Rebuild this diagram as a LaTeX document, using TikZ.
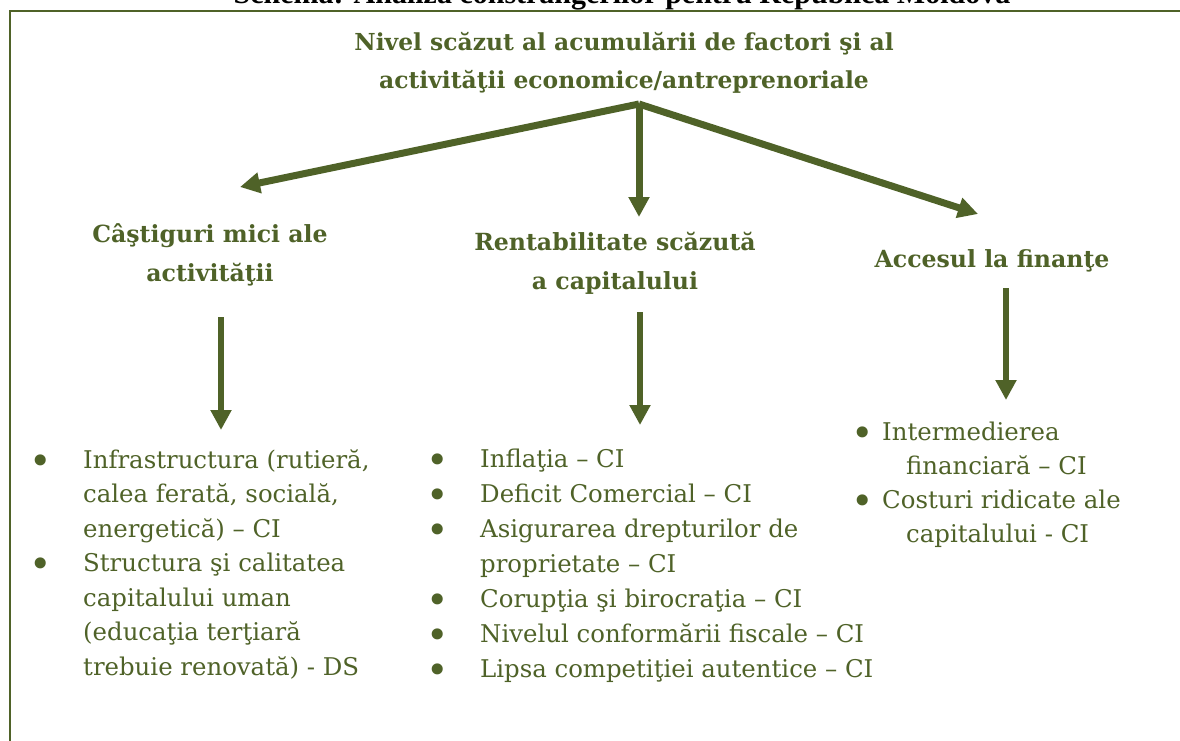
\documentclass[tikz,border=0pt]{standalone}
\usepackage{fontspec}
\setmainfont{DejaVu Serif}
\newfontfamily\titlefont{Liberation Serif}
\usetikzlibrary{arrows.meta}
\definecolor{olivedark}{HTML}{4F6228}
\newcommand\itemdot{\smash{\raisebox{-6pt}{\fontsize{38}{38}\selectfont\textbullet}}}

\tikzset{
    greenarrow/.style={draw=olivedark, line width=6pt, -{Triangle[width=20pt,length=20pt]}},
    headtxt/.style={text=olivedark, inner sep=0pt, anchor=base, font=\bfseries\fontsize{23.6}{39}\selectfont},
    listtxt/.style={text=olivedark, inner sep=0pt, anchor=base west, font=\fontsize{24.4}{34.5}\selectfont}
}

\begin{document}
\begin{tikzpicture}[x=1pt, y=-1pt]
        \useasboundingbox (0,0) rectangle (1180,741);
        % Frame and cut title
        \draw[olivedark, line width=2pt] (10,741) -- (10,11) -- (1180,11);
        \node[inner sep=0pt, anchor=base, font=\titlefont\bfseries\fontsize{30}{34}\selectfont] (title) at (622,4)
            {Schema: Analiza constrângerilor pentru Republica Moldova};

        % Top level
        \node[headtxt, font=\bfseries\fontsize{23.4}{38}\selectfont] (level) at (624,51)
            {\begin{tabular}[t]{@{}c@{}}Nivel scăzut al acumulării de factori şi al\\activităţii economice/antreprenoriale\end{tabular}};

        % Three causes
        \node[headtxt] (gain) at (210,242)
            {\begin{tabular}[t]{@{}c@{}}Câştiguri mici ale\\activităţii\end{tabular}};
        \node[headtxt] (rent) at (615,250)
            {\begin{tabular}[t]{@{}c@{}}Rentabilitate scăzută\\a capitalului\end{tabular}};
        \node[headtxt] (access) at (992,267) {Accesul la finanţe};

        % Arrows from the top level
        \coordinate (apex) at (639,104);
        \coordinate (gain tip) at (240,187);
        \coordinate (rent tip) at (639,217);
        \coordinate (access tip) at (978,214);
        \foreach \t in {gain tip, rent tip, access tip} {
            \draw[greenarrow, line width=7pt] (apex) -- (\t);
        }

        % Arrows down to the lists
        \foreach \n/\x/\a/\b in {gain/221/317/430, rent/640/312/425, access/1006/288/400} {
            \coordinate (\n from) at (\x,\a);
            \coordinate (\n to) at (\x,\b);
            \draw[greenarrow] (\n from) -- (\n to);
        }

        % Lists of constraints
        \node[listtxt] (gainlist) at (29,468)
            {\begin{tabular}[t]{@{}p{54pt}@{}l@{}}
            \itemdot & Infrastructura (rutieră,\\
             & calea ferată, socială,\\
             & energetică) – CI\\
            \itemdot & Structura şi calitatea\\
             & capitalului uman\\
             & (educaţia terţiară\\
             & trebuie renovată) - DS
            \end{tabular}};
        \node[listtxt, font=\fontsize{24.4}{35}\selectfont] (rentlist) at (426,467)
            {\begin{tabular}[t]{@{}p{54pt}@{}l@{}}
            \itemdot & Inflaţia – CI\\
            \itemdot & Deficit Comercial – CI\\
            \itemdot & Asigurarea drepturilor de\\
             & proprietate – CI\\
            \itemdot & Corupţia şi birocraţia – CI\\
            \itemdot & Nivelul conformării fiscale – CI\\
            \itemdot & Lipsa competiţiei autentice – CI
            \end{tabular}};
        \node[listtxt, font=\fontsize{24.4}{34.3}\selectfont] (accesslist) at (851,440)
            {\begin{tabular}[t]{@{}p{31pt}@{}l@{}}
            \itemdot & Intermedierea\\
             & \hspace{24pt}financiară – CI\\
            \itemdot & Costuri ridicate ale\\
             & \hspace{24pt}capitalului - CI
            \end{tabular}};
    \end{tikzpicture}
\end{document}
